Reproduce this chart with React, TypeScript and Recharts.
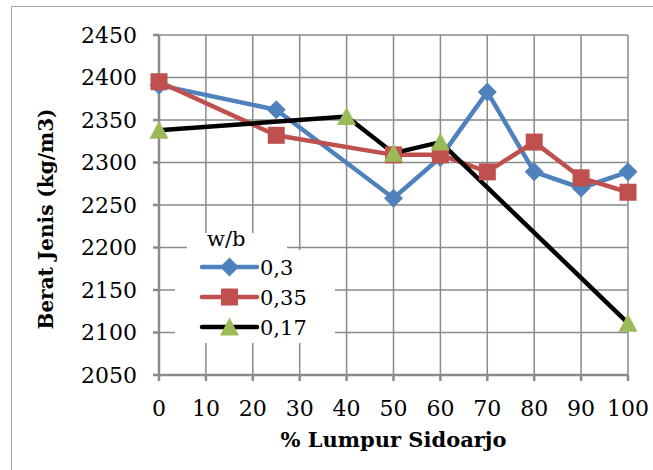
import React from "react";
import { LineChart, Line, XAxis, YAxis, CartesianGrid, Legend } from "recharts";

const xTicks = [0, 10, 20, 30, 40, 50, 60, 70, 80, 90, 100];
const yTicks = [2050, 2100, 2150, 2200, 2250, 2300, 2350, 2400, 2450];

const s03X = [0, 25, 50, 60, 70, 80, 90, 100];
const s03Y = [2391, 2362, 2258, 2306, 2383, 2289, 2270, 2289];
const s035X = [0, 25, 50, 60, 70, 80, 90, 100];
const s035Y = [2395, 2332, 2309, 2309, 2289, 2324, 2282, 2265];
const s017X = [0, 40, 50, 60, 100];
const s017Y = [2338, 2354, 2311, 2324, 2111];

const seriesNames = ["0,3", "0,35", "0,17"];
const legendTitle = "w/b";
const xLabel = "% Lumpur Sidoarjo";
const yLabel = "Berat Jenis (kg/m3)";

const BLUE = "#4F81BD";
const RED = "#C0504D";
const GREEN = "#9BBB59";
const BLACK = "#000000";
const GRID = "#8a8a8a";
const FONT = "DejaVu Serif, serif";

const toData = (xs: number[], ys: number[]) => xs.map((x, i) => ({ x, y: ys[i] }));
const d03 = toData(s03X, s03Y);
const d035 = toData(s035X, s035Y);
const d017 = toData(s017X, s017Y);

const Diamond = ({ cx, cy }: any) => {
  const r = 9.5;
  return <path d={`M${cx},${cy - r}L${cx + r},${cy}L${cx},${cy + r}L${cx - r},${cy}Z`} fill={BLUE} />;
};
const Square = ({ cx, cy }: any) => {
  const s = 17;
  return <rect x={cx - s / 2} y={cy - s / 2} width={s} height={s} fill={RED} />;
};
const Triangle = ({ cx, cy }: any) => {
  const w = 19;
  const h = 17;
  return <path d={`M${cx},${cy - h / 2 - 1}L${cx + w / 2},${cy + h / 2}L${cx - w / 2},${cy + h / 2}Z`} fill={GREEN} />;
};

const series = [
  { name: seriesNames[0], data: d03, color: BLUE, Marker: Diamond },
  { name: seriesNames[1], data: d035, color: RED, Marker: Square },
  { name: seriesNames[2], data: d017, color: BLACK, Marker: Triangle },
];

const renderLegend = () => (
  <svg width={160} height={110} style={{ overflow: "visible", display: "block" }}>
    <rect x={12} y={0} width={100} height={18} fill="#fff" />
    <rect x={0} y={17} width={160} height={93} fill="#fff" />
    <text x={32} y={13} fontFamily={FONT} fontSize={21} fill="#000">
      {legendTitle}
    </text>
    {series.map((s, i) => {
      const y = 34 + i * 30;
      const M = s.Marker;
      return (
        <g key={s.name}>
          <line x1={27} x2={82} y1={y} y2={y} stroke={s.color} strokeWidth={4.5} strokeLinecap="round" />
          <M cx={54.5} cy={y} />
          <text x={85} y={y + 8} fontFamily={FONT} fontSize={21} fill="#000">
            {s.name}
          </text>
        </g>
      );
    })}
  </svg>
);

const XLabelContent = (props: any) => {
  const vb = props.viewBox || {};
  return (
    <text x={vb.x + vb.width / 2} y={vb.y + 72} textAnchor="middle" fontFamily={FONT} fontSize={21} fontWeight="bold" fill="#000">
      {xLabel}
    </text>
  );
};

const YLabelContent = (props: any) => {
  const vb = props.viewBox || {};
  const cx = vb.x + 53;
  const cy = vb.y + vb.height / 2 + 14;
  return (
    <text transform={`translate(${cx},${cy}) rotate(-90)`} x={0} y={0} textAnchor="middle" fontFamily={FONT} fontSize={20} fontWeight="bold" fill="#000">
      {yLabel}
    </text>
  );
};

export default function App() {
  return (
    <div style={{ position: "absolute", left: 0, top: 0, width: 653, height: 470, overflow: "hidden", background: "#fff" }}>
      <div style={{ position: "absolute", left: 11, top: 6, width: 700, height: 500, border: "1.5px solid #a6a6a6", boxSizing: "border-box" }} />
      <div style={{ position: "absolute", left: 0, top: 0 }}>
        <LineChart width={653} height={470} margin={{ top: 35, right: 25, bottom: 0, left: 0 }}>
          <CartesianGrid stroke={GRID} strokeWidth={1.5} horizontalValues={yTicks} verticalValues={xTicks} />
          <XAxis
            type="number"
            dataKey="x"
            domain={[0, 100]}
            ticks={xTicks}
            interval={0}
            height={95}
            axisLine={{ stroke: GRID, strokeWidth: 2.5 }}
            tickLine={{ stroke: GRID, strokeWidth: 2.5 }}
            tickSize={6}
            tickMargin={19}
            tick={{ fontFamily: FONT, fontSize: 22, fill: "#000" }}
            label={<XLabelContent />}
          />
          <YAxis
            type="number"
            domain={[2050, 2450]}
            ticks={yTicks}
            interval={0}
            width={159}
            axisLine={{ stroke: GRID, strokeWidth: 2.5 }}
            tickLine={{ stroke: GRID, strokeWidth: 2.5 }}
            tickSize={6}
            tickMargin={16}
            tick={{ fontFamily: FONT, fontSize: 22, fill: "#000" }}
            label={<YLabelContent />}
          />
          {series.map((s) => {
            const M = s.Marker;
            return (
              <Line
                key={s.name}
                name={s.name}
                data={s.data}
                dataKey="y"
                type="linear"
                stroke={s.color}
                strokeWidth={4.5}
                isAnimationActive={false}
                dot={(p: any) => <M key={`${s.name}-${p.index}`} cx={p.cx} cy={p.cy} />}
                activeDot={false}
              />
            );
          })}
          <Legend
            layout="vertical"
            align="center"
            verticalAlign="middle"
            content={renderLegend}
            wrapperStyle={{ position: "absolute", left: 175, top: 233, width: 160, height: 110 }}
          />
        </LineChart>
      </div>
    </div>
  );
}
